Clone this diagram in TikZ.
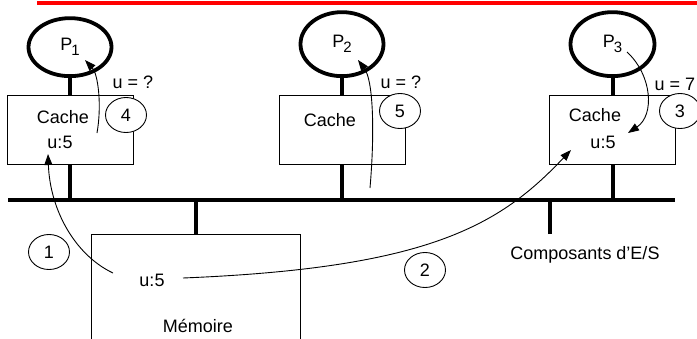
\documentclass[tikz,border=0pt]{standalone}
\usepackage{fontspec}
\setmainfont{Liberation Sans}
\usetikzlibrary{arrows.meta, positioning, shapes.geometric}

\newcommand{\pname}[1]{P\kern-1pt\raisebox{-5pt}{\fontsize{15}{15}\selectfont #1}}

\begin{document}
\begin{tikzpicture}[
    x=1pt, y=-1pt,
    node distance=17pt,
    every node/.style={font=\fontsize{18}{20}\selectfont, inner sep=2pt},
    proc/.style={ellipse, draw, line width=3.8pt, minimum width=83pt,
        minimum height=64pt, inner sep=0pt},
    cachebox/.style={rectangle, draw, line width=0.9pt, minimum width=126pt,
        minimum height=69pt},
    memory/.style={rectangle, draw, line width=0.9pt, minimum width=209pt,
        minimum height=160pt, anchor=north},
    num/.style={ellipse, draw, fill=white, line width=0.9pt,
        minimum width=41pt, minimum height=35pt, inner sep=0pt},
    bus/.style={line width=4pt},
    flow/.style={-{Triangle[length=11pt, width=8pt]}, line width=0.9pt},
]
\useasboundingbox (0,0) rectangle (697,338);
\clip (0,0) rectangle (697,338);

\draw[red, line width=3.5pt] (37,3) -- (697,3);

% caches and processors
\node[cachebox] (cache1) at (70,130) {};
\node[cachebox] (cache2) at (342,130) {};
\node[cachebox] (cache3) at (612.5,130) {};
\node[proc, above=of cache1, minimum height=58pt] (p1) {\pname{1}};
\node[proc, above=of cache2] (p2) {\pname{2}};
\node[proc, above=of cache3, minimum width=84pt] (p3) {\pname{3}};

\node (c1txt) at (63,117) {Cache};
\node (c1val) at (60,142) {u:5};
\node (c2txt) at (330,120) {Cache};
\node (c3txt) at (595,115) {Cache};
\node (c3val) at (603,142) {u:5};

% memory and I/O
\node[memory] (mem) at (196,234) {};
\node (memval) at (152,280) {u:5};
\node (memtxt) at (198,326) {Mémoire};
\coordinate (io) at (550,234);
\node (iotxt) at (585,255) {Composants d’E/S};

% bus
\coordinate (busL) at (8,200);
\coordinate (busR) at (675,200);
\draw[bus] (busL) -- (busR);
\draw[bus] (p1) -- (cache1);
\draw[bus] (p2) -- (cache2);
\draw[bus] (p3) -- (cache3);
\draw[bus] (cache1.south) -- (cache1.south |- busL);
\draw[bus] (cache2.south) -- (cache2.south |- busL);
\draw[bus] (cache3.south) -- (cache3.south |- busL);
\draw[bus] (mem.north) -- (mem.north |- busL);
\draw[bus] (io) -- (io |- busL);

% steps
\node[num] (n4) at (126,115) {4};
\node[num] (n5) at (400,111) {5};
\node[num] (n3) at (680,111) {3};
\node[num] (n1) at (49,252) {1};
\node[num] (n2) at (425,270) {2};
\node (q1) at (133,82) {u = ?};
\node (q2) at (401,82) {u = ?};
\node (q3) at (675,84) {u = 7};

% transfers
\coordinate (a1s) at (113,273);
\coordinate (a1e) at (48,154);
\coordinate (a2s) at (183,278);
\coordinate (a2e) at (571,150);
\coordinate (a3s) at (627,52);
\coordinate (a3e) at (628,133);
\coordinate (a4s) at (97,133);
\coordinate (a4e) at (85,60);
\coordinate (a5s) at (370,188);
\coordinate (a5e) at (358,60);
\draw[flow] (a1s) .. controls (75,255) and (50,210) .. (a1e);
\draw[flow] (a2s) .. controls (430,268) and (500,225) .. (a2e);
\draw[flow] (a3s) .. controls (652,75) and (655,115) .. (a3e);
\draw[flow] (a4s) .. controls (102,105) and (98,74) .. (a4e);
\draw[flow] (a5s) .. controls (375,130) and (373,80) .. (a5e);

\end{tikzpicture}
\end{document}
